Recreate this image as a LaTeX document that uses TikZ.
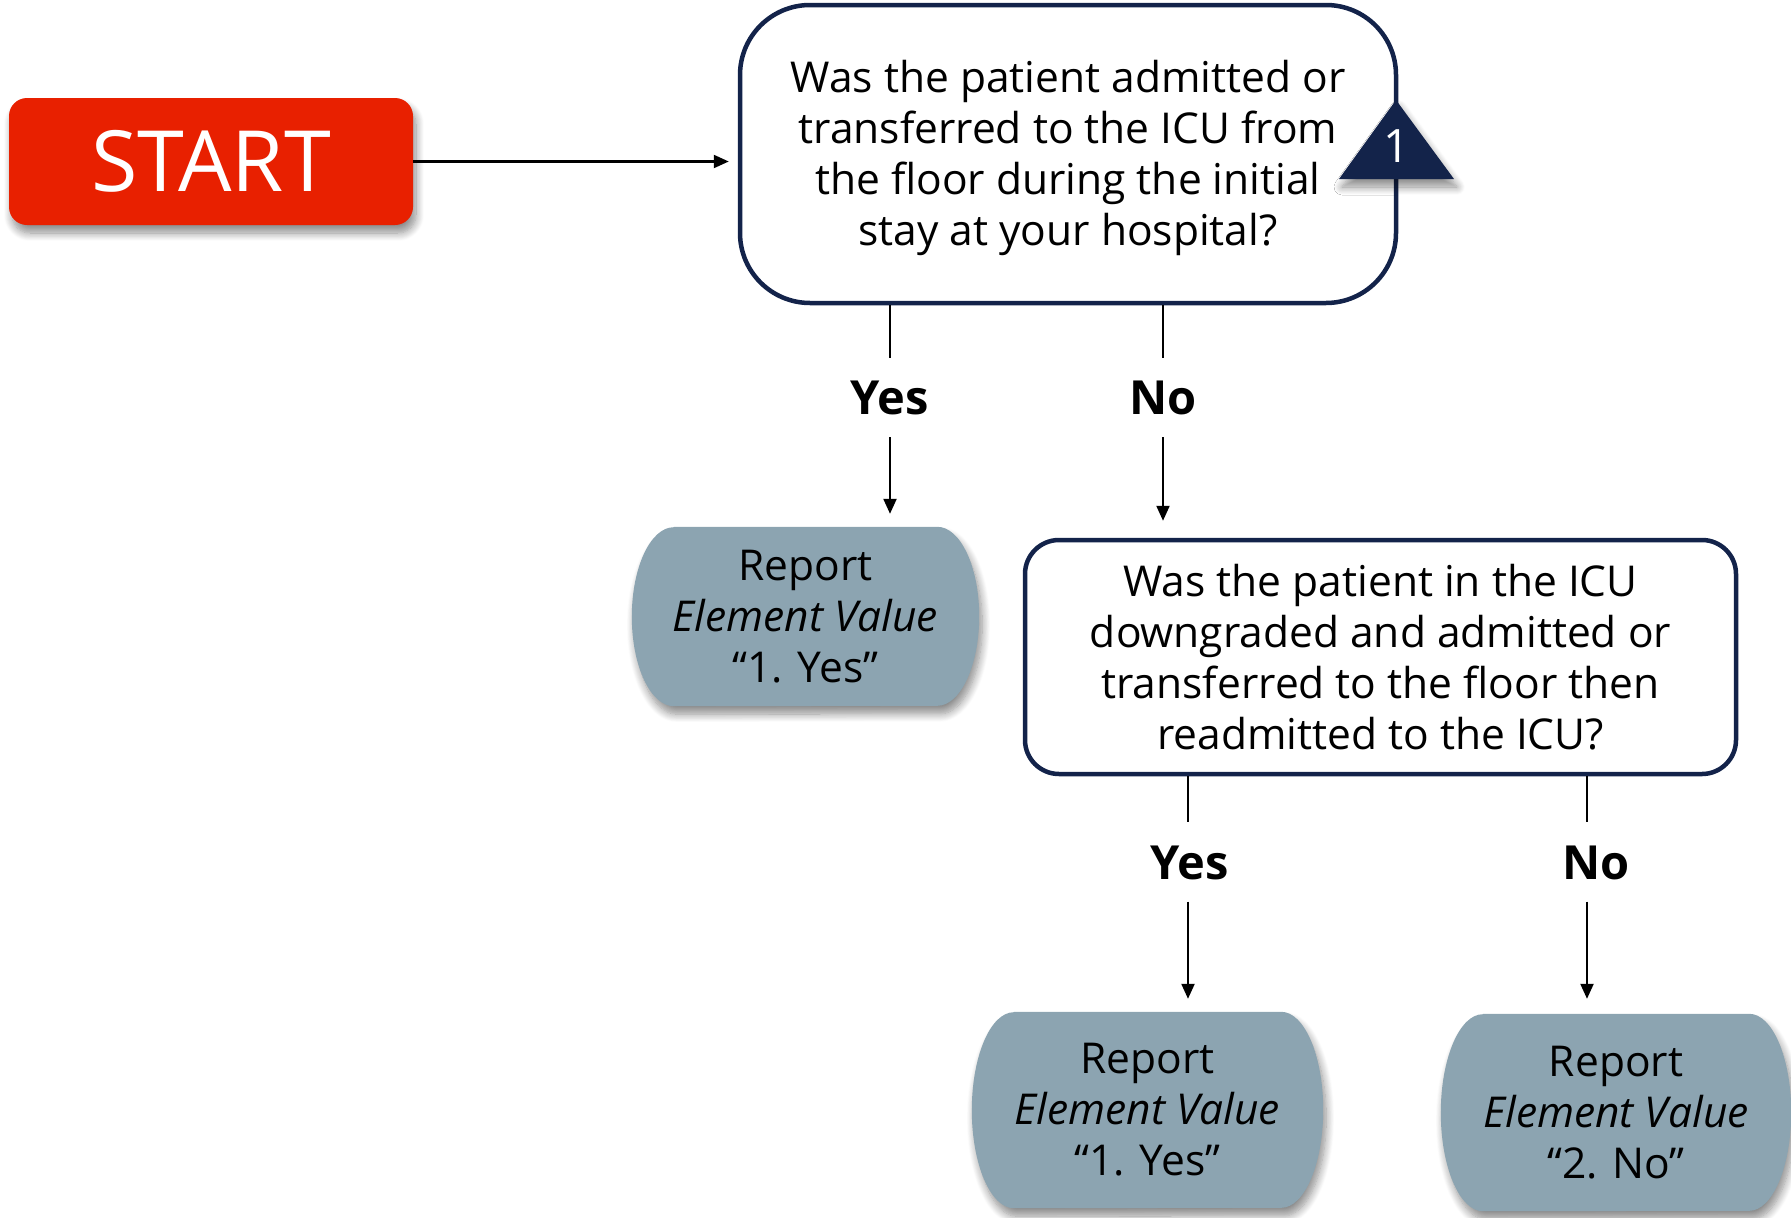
\documentclass[tikz,border=0pt]{standalone}
\usepackage{fontspec}
\setmainfont{Open Sans}
\usetikzlibrary{arrows.meta,calc,shadows.blur,backgrounds}

\definecolor{startred}{HTML}{E82000}
\definecolor{navy}{HTML}{13234A}
\definecolor{repfill}{HTML}{8CA4B1}

\newcommand\qfont{\fontsize{42.5}{51}\selectfont}

\tikzset{
  connector/.style={line width=2.2pt, draw=black},
  arr/.style={connector, -{Triangle[length=15pt,width=13pt]}},
  softshadow/.style={blur shadow={shadow xshift=3pt, shadow yshift=-8pt,
      shadow blur radius=8pt, shadow blur steps=10, shadow opacity=45}},
  startbox/.style={fill=startred, rounded corners=18pt, text=white,
      font=\fontsize{84.5}{90}\selectfont, minimum width=404pt,
      minimum height=127pt, inner sep=0pt, softshadow},
  decision/.style={draw=navy, line width=4.5pt, fill=white, align=center,
      font=\qfont, inner sep=0pt},
  branch/.style={font=\fontsize{47}{52}\selectfont\bfseries, text height=34pt,
      text depth=0pt, minimum height=79pt, inner sep=0pt},
  report/.style={align=center, font=\qfont, inner sep=0pt},
}

% Terminal shape: flat top and bottom, elliptical sides
\newcommand\repshape[2]{%
  \fill[repfill, softshadow]
    ($(#1.north west)+(42pt,0)$) -- ($(#1.north east)+(-42pt,0)$)
    arc[start angle=90, end angle=-90, x radius=42pt, y radius=#2]
    -- ($(#1.south west)+(42pt,0)$)
    arc[start angle=270, end angle=90, x radius=42pt, y radius=#2] -- cycle;
}

\begin{document}
\begin{tikzpicture}[x=1pt,y=1pt]
  \useasboundingbox (0,0) rectangle (1791,-1218);

  % Start
  \node[startbox] (start) at (211,-161.5) {START};

  % First question
  \node[decision, rounded corners=70pt, minimum width=656pt, minimum height=298pt]
    (q1) at (1068,-154)
    {\raisebox{-4.5pt}[\height][\depth]{\begin{tabular}{@{}c@{}}Was the patient admitted or\\ transferred to the ICU from\\ the floor during the initial\\ stay at your hospital?\end{tabular}}};

  % Note marker on the first question
  \fill[navy, softshadow] (1396,-100) -- (1454,-179) -- (1339,-179) -- cycle;
  \node[text=white, font=\fontsize{46}{50}\selectfont, inner sep=0pt] (note) at (1397,-146) {1};

  \draw[arr, shorten >=9pt] (start.east) -- (q1.west |- start.east);

  % Branch labels of the first question
  \node[branch] (yes1) at (890,-397.5) {Yes};
  \node[branch] (no1) at (1163,-397.5) {No};

  % Outcome of the first question
  \node[report, minimum width=347pt, minimum height=179pt] (rep1) at (805.5,-616.5)
    {Report\\ \textit{Element Value}\\ “1. Yes”};

  % Second question
  \node[decision, rounded corners=34pt, minimum width=711pt, minimum height=234pt]
    (q2) at (1380.5,-657)
    {Was the patient in the ICU\\ downgraded and admitted or\\ transferred to the floor then\\ readmitted to the ICU?};

  % Branch labels of the second question
  \node[branch] (yes2) at (1190,-862) {Yes};
  \node[branch] (no2) at (1596,-862) {No};
  \coordinate (yes2x) at (1188,-862);
  \coordinate (no2x) at (1587,-862);

  % Outcomes of the second question
  \node[report, minimum width=351pt, minimum height=196pt] (rep2) at (1147.5,-1110)
    {Report\\ \textit{Element Value}\\ “1. Yes”};
  \node[report, minimum width=350pt, minimum height=197pt] (rep3) at (1616,-1112.5)
    {Report\\ \textit{Element Value}\\ “2. No”};

  \begin{scope}[on background layer]
    \repshape{rep1}{89.5pt}
    \repshape{rep2}{98pt}
    \repshape{rep3}{98.5pt}
  \end{scope}

  % Connectors
  \draw[connector] (q1.south -| yes1) -- (yes1.north);
  \draw[arr, shorten >=13pt] (yes1.south) -- (rep1.north -| yes1);
  \draw[connector] (q1.south -| no1) -- (no1.north);
  \draw[arr, shorten >=17pt] (no1.south) -- (q2.north -| no1);

  \draw[connector] (q2.south -| yes2x) -- (yes2.north -| yes2x);
  \draw[arr, shorten >=13pt] (yes2.south -| yes2x) -- (rep2.north -| yes2x);
  \draw[connector] (q2.south -| no2x) -- (no2.north -| no2x);
  \draw[arr, shorten >=15pt] (no2.south -| no2x) -- (rep3.north -| no2x);
\end{tikzpicture}
\end{document}
